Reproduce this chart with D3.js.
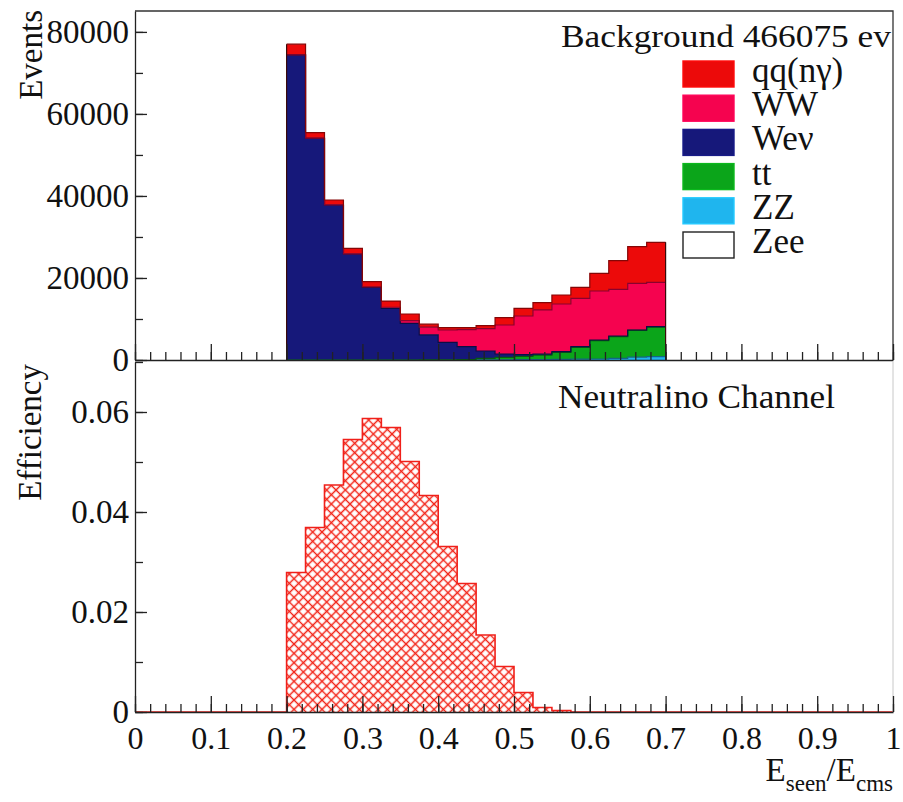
<!DOCTYPE html>
<html>
<head>
<meta charset="utf-8">
<script src="https://cdn.jsdelivr.net/npm/d3@7"></script>
<style>
  body { margin: 0; background: #fff; }
  svg text { font-family: "Liberation Serif", "Times New Roman", Times, "DejaVu Serif", serif !important; fill: #111; }
  .axis path, .axis line { stroke: #222; stroke-width: 1.3; }
</style>
</head>
<body>
<script>
// background stack, bins of 0.025 from 0.2 to 0.7
var binLow = [0.2, 0.225, 0.25, 0.275, 0.3, 0.325, 0.35, 0.375, 0.4, 0.425,
              0.45, 0.475, 0.5, 0.525, 0.55, 0.575, 0.6, 0.625, 0.65, 0.675];
var binWidth = 0.025;

var qq  = [2600, 1340, 1170, 1340, 1300, 1500, 1600, 730, 570, 490,
           730, 1780, 1870, 1780, 2190, 2690, 4310, 6990, 8930, 9750];
var ww  = [0, 40, 50, 50, 70, 260, 670, 1870, 3010, 4150,
           5440, 7080, 9430, 10740, 11630, 11790, 11950, 11390, 11380, 10820];
var wev = [74400, 54060, 37800, 25850, 17730, 12600, 8950, 6100, 4250, 3130,
           1800, 810, 400, 250, 200, 180, 150, 130, 120, 100];
var tt  = [0, 0, 0, 0, 0, 0, 0, 30, 60, 100,
           360, 590, 820, 1110, 1680, 2870, 4480, 5320, 6500, 7230];
var zz  = [0, 0, 0, 0, 0, 0, 0, 0, 0, 20,
           40, 60, 80, 100, 150, 200, 250, 400, 700, 800];
var zee = [0, 0, 0, 0, 0, 0, 0, 0, 0, 0,
           0, 0, 0, 0, 0, 0, 0, 0, 0, 0];

var stackKeys = ["Zee", "ZZ", "tt", "Wev", "WW", "qq"];      // bottom -> top
var legendKeys = ["qq", "WW", "Wev", "tt", "ZZ", "Zee"];
var legendNames = ["qq(nγ)", "WW", "Weν", "tt", "ZZ", "Zee"];
var colors = { qq: "#ec0a0a", WW: "#f5034f", Wev: "#16187a", tt: "#0ba51a", ZZ: "#1fb5ee", Zee: "#ffffff" };

// neutralino efficiency, 40 bins of 0.025 over [0,1]
var effValues = [0, 0, 0, 0, 0, 0, 0, 0,
                 0.0279, 0.0369, 0.0454, 0.0545, 0.0587, 0.0569, 0.0501, 0.0433,
                 0.0331, 0.0257, 0.0154, 0.0091, 0.0039, 0.0009, 0.0003, 0,
                 0, 0, 0, 0, 0, 0, 0, 0, 0, 0, 0, 0, 0, 0, 0, 0];

var xTicks = [0, 0.1, 0.2, 0.3, 0.4, 0.5, 0.6, 0.7, 0.8, 0.9, 1];
var yTopTicks = [0, 20000, 40000, 60000, 80000];
var yBotTicks = [0, 0.02, 0.04, 0.06];
var totalLabel = "Background 466075 ev";

var width = 903, height = 802;
var svg = d3.select("body").append("svg")
  .attr("width", width)
  .attr("height", height)
  .attr("font-family", "Liberation Serif, DejaVu Serif, serif");

var x = d3.scaleLinear().domain([0, 1]).range([135, 893]);
var yTop = d3.scaleLinear().domain([0, 85100]).range([360, 11]);
var yBot = d3.scaleLinear().domain([0, 0.07]).range([712, 362]);

var defs = svg.append("defs");
var pat = defs.append("pattern")
  .attr("id", "hatch")
  .attr("patternUnits", "userSpaceOnUse")
  .attr("width", 6.6).attr("height", 6.6)
  .attr("patternTransform", "rotate(45)");
pat.append("path")
  .attr("d", "M0,3.3H6.6M3.3,0V6.6")
  .attr("stroke", "#f2261a").attr("stroke-width", 1.5).attr("fill", "none");

// ---------- top panel: stacked backgrounds ----------
var series = { qq: qq, WW: ww, Wev: wev, tt: tt, ZZ: zz, Zee: zee };
var rows = binLow.map(function (b, i) {
  var r = { x: b };
  stackKeys.forEach(function (k) { r[k] = series[k][i]; });
  return r;
});
var lastRow = Object.assign({}, rows[rows.length - 1], { x: binLow[binLow.length - 1] + binWidth });
rows.push(lastRow);

var stacked = d3.stack().keys(stackKeys)(rows);

var area = d3.area()
  .curve(d3.curveStepAfter)
  .x(function (d) { return x(d.data.x); })
  .y0(function (d) { return yTop(d[0]); })
  .y1(function (d) { return yTop(d[1]); });

var topLine = d3.line()
  .curve(d3.curveStepAfter)
  .x(function (d) { return x(d.data.x); })
  .y(function (d) { return yTop(d[1]); });

var gTop = svg.append("g");
gTop.selectAll(".layer")
  .data(stacked)
  .enter().append("path")
  .attr("class", "layer")
  .attr("fill", function (d) { return colors[d.key]; })
  .attr("d", area);

gTop.selectAll(".edge")
  .data(stacked.filter(function (d) { return d.key !== "Zee"; }))
  .enter().append("path")
  .attr("class", "edge")
  .attr("fill", "none")
  .attr("stroke", function (d) { return d3.color(colors[d.key]).darker(1.6); })
  .attr("stroke-width", 1.2)
  .attr("d", topLine);

// vertical outline of the outer envelope
var totals = stacked[stacked.length - 1];
gTop.append("path")
  .attr("fill", "none")
  .attr("stroke", "#3a0a0a")
  .attr("stroke-width", 1.2)
  .attr("d", "M" + x(binLow[0]) + "," + yTop(0) + "L" + x(binLow[0]) + "," + yTop(totals[0][1]) +
    "M" + x(lastRow.x) + "," + yTop(0) + "L" + x(lastRow.x) + "," + yTop(totals[totals.length - 1][1]));

// frame of top panel
svg.append("path")
  .attr("fill", "none")
  .attr("stroke", "#333")
  .attr("stroke-width", 1.3)
  .attr("d", "M" + x(0) + ",11H" + x(1) + "V360");

// ---------- bottom panel: efficiency ----------
var effRows = effValues.map(function (v, i) { return { x: i * binWidth, v: v }; });
effRows.push({ x: 1, v: effValues[effValues.length - 1] });

var effArea = d3.area()
  .curve(d3.curveStepAfter)
  .x(function (d) { return x(d.x); })
  .y0(yBot(0))
  .y1(function (d) { return yBot(d.v); });

var effLine = d3.line()
  .curve(d3.curveStepAfter)
  .x(function (d) { return x(d.x); })
  .y(function (d) { return yBot(d.v); });

svg.append("path")
  .datum(effRows)
  .attr("fill", "url(#hatch)")
  .attr("d", effArea);

svg.append("path")
  .datum(effRows)
  .attr("fill", "none")
  .attr("stroke", "#f0201a")
  .attr("stroke-width", 1.6)
  .attr("d", effLine);

svg.append("line")
  .attr("x1", x(1)).attr("x2", x(1))
  .attr("y1", 362).attr("y2", 712)
  .attr("stroke", "#c8c8c8").attr("stroke-width", 1);

// ---------- axes ----------
var minorX = d3.range(0, 51).map(function (i) { return i / 50; });

function drawXAxis(y0, labels) {
  var g = svg.append("g").attr("class", "axis")
    .attr("transform", "translate(0," + y0 + ")");
  g.call(d3.axisBottom(x).tickValues(minorX).tickSize(-8).tickSizeOuter(0).tickFormat(""));
  var maj = svg.append("g").attr("class", "axis")
    .attr("transform", "translate(0," + y0 + ")")
    .call(d3.axisBottom(x).tickValues(xTicks).tickSize(-16).tickSizeOuter(0).tickPadding(14)
      .tickFormat(labels ? function (d) { return d3.format("")(d); } : ""));
  maj.select(".domain").remove();
  maj.attr("font-family", null);
  maj.selectAll("text").attr("font-size", 32).attr("fill", "#111").attr("dy", "0.71em");
}

function drawYAxis(scale, ticks, minor, fmt) {
  var g = svg.append("g").attr("class", "axis")
    .attr("transform", "translate(" + x(0) + ",0)");
  g.call(d3.axisLeft(scale).tickValues(minor).tickSize(-8).tickSizeOuter(0).tickFormat(""));
  var maj = svg.append("g").attr("class", "axis")
    .attr("transform", "translate(" + x(0) + ",0)")
    .call(d3.axisLeft(scale).tickValues(ticks).tickSize(-12).tickSizeOuter(0).tickPadding(6).tickFormat(fmt));
  maj.select(".domain").remove();
  maj.attr("font-family", null);
  maj.selectAll("text").attr("font-size", 33).attr("fill", "#111");
}

drawXAxis(360, false);
drawXAxis(712, true);
drawYAxis(yTop, yTopTicks, d3.range(0, 85001, 10000), d3.format("d"));
drawYAxis(yBot, yBotTicks, d3.range(0, 8).map(function (i) { return i / 100; }),
  function (d) { return d === 0 ? "0" : d3.format(".2f")(d); });

// ---------- texts ----------
svg.append("text")
  .attr("x", 891).attr("y", 47)
  .attr("text-anchor", "end")
  .attr("font-size", 32)
  .attr("textLength", 330)
  .attr("lengthAdjust", "spacingAndGlyphs")
  .text(totalLabel);

svg.append("text")
  .attr("x", 558).attr("y", 408)
  .attr("font-size", 33)
  .attr("textLength", 277)
  .attr("lengthAdjust", "spacingAndGlyphs")
  .text("Neutralino Channel");

svg.append("text")
  .attr("transform", "translate(42,10) rotate(-90)")
  .attr("text-anchor", "end")
  .attr("font-size", 33)
  .text("Events");

svg.append("text")
  .attr("transform", "translate(41,364) rotate(-90)")
  .attr("text-anchor", "end")
  .attr("font-size", 33)
  .text("Efficiency");

var xt = svg.append("text")
  .attr("x", 893).attr("y", 781)
  .attr("text-anchor", "end")
  .attr("font-size", 33);
xt.append("tspan").text("E");
xt.append("tspan").attr("font-size", 23).attr("dy", 10).text("seen");
xt.append("tspan").attr("dy", -10).text("/E");
xt.append("tspan").attr("font-size", 23).attr("dy", 10).text("cms");

// ---------- legend ----------
var leg = svg.append("g").selectAll("g")
  .data(legendKeys)
  .enter().append("g")
  .attr("transform", function (d, i) { return "translate(683," + (61 + i * 34.2) + ")"; });

leg.append("rect")
  .attr("width", 51).attr("height", 26)
  .attr("fill", function (d) { return colors[d]; })
  .attr("stroke", function (d) { return d === "Zee" ? "#222" : d3.color(colors[d]).brighter(0.3); })
  .attr("stroke-width", 1.4);

leg.append("text")
  .attr("x", 69).attr("y", 21)
  .attr("font-size", 35)
  .text(function (d, i) { return legendNames[i]; });
</script>
</body>
</html>
